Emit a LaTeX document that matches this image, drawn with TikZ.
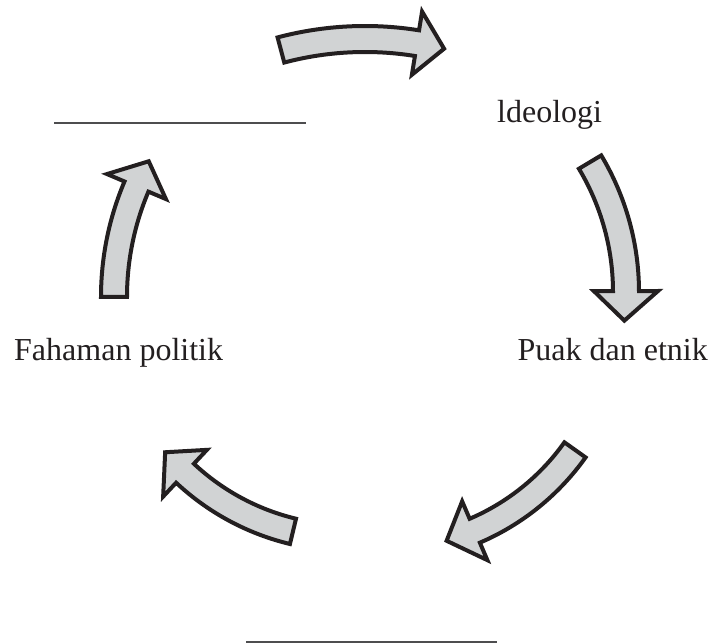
\documentclass[tikz,border=0pt]{standalone}
\usepackage{fontspec}
\setmainfont{Liberation Serif}
\usetikzlibrary{calc}
\definecolor{arrowfill}{HTML}{D1D3D4}
\definecolor{arrowline}{HTML}{231F20}
\definecolor{blankline}{HTML}{4D4D4F}
\tikzset{
  blockarrow/.style={fill=arrowfill, draw=arrowline, line width=4pt, line join=miter, miter limit=10},
  label/.style={inner sep=0pt, font=\fontsize{32}{38}\selectfont, text=arrowline},
  blank/.style={draw=blankline, line width=2pt}
}
% #1 name, #2 cx, #3 cy, #4 R, #5 tail angle, #6 head-base angle, #7 tip angle
\newcommand{\cbarrow}[7]{%
  \pgfmathsetmacro\cbro{#4+13}\pgfmathsetmacro\cbri{#4-13}%
  \pgfmathsetmacro\cbho{#4+32}\pgfmathsetmacro\cbhi{#4-32}%
  \coordinate (#1c) at (#2pt,#3pt);
  \draw[blockarrow] ($(#1c)+(#5:\cbro pt)$) arc[start angle=#5, end angle=#6, radius=\cbro pt]
    -- ($(#1c)+(#6:\cbho pt)$) -- ($(#1c)+(#7:#4pt)$) -- ($(#1c)+(#6:\cbhi pt)$)
    -- ($(#1c)+(#6:\cbri pt)$) arc[start angle=#6, end angle=#5, radius=\cbri pt] -- cycle;}
\begin{document}
\begin{tikzpicture}
\path[use as bounding box] (0pt,0pt) rectangle (712pt,644pt);
% arrows
\cbarrow{a1}{365}{278}{327}{104.9}{80.85}{76}
\cbarrow{a2}{373}{352}{253}{30.9}{0.2}{-6.5}
\cbarrow{a3}{381}{332}{238}{-35.4}{-66.8}{-74}
\cbarrow{a4}{349}{346}{240}{-103.5}{-133.1}{-140}
\cbarrow{a5}{396.6}{347}{282.6}{180}{157}{151.3}
% labels
\node[label, anchor=base west] (ideo) at (497pt,521pt) {ldeologi};
\node[label, anchor=base east] (puak) at (708pt,283pt) {Puak dan etnik};
\node[label, anchor=base west] (faham) at (14pt,283pt) {Fahaman politik};
% blanks
\coordinate (b1a) at (54pt,521pt);
\coordinate (b1b) at (306pt,521pt);
\coordinate (b2a) at (246pt,2pt);
\coordinate (b2b) at (497pt,2pt);
\draw[blank] (b1a) -- (b1b);
\draw[blank] (b2a) -- (b2b);
\end{tikzpicture}
\end{document}
